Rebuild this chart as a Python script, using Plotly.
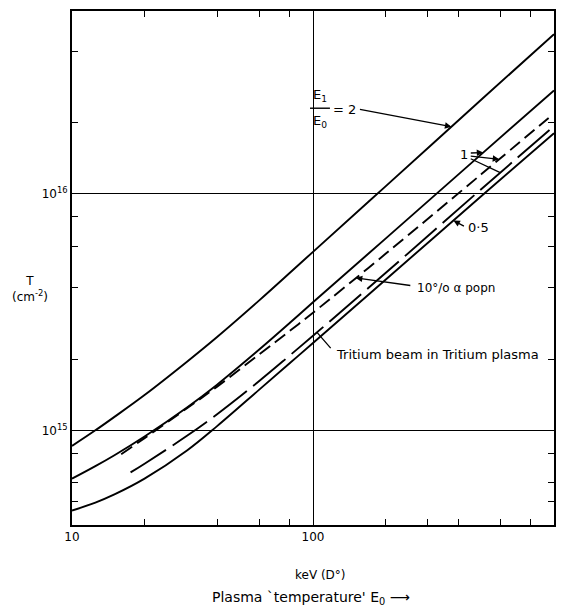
import numpy as np
import plotly.graph_objects as go

# ---------------- data ----------------
x_full = [10, 12.5, 15, 20, 30, 40, 60, 80, 100, 200, 500, 1000]
T_ratio2 = [8.59e14, 1.00e15, 1.14e15, 1.41e15, 1.95e15, 2.48e15, 3.55e15, 4.62e15, 5.68e15, 1.074e16, 2.50e16, 4.72e16]
T_ratio1 = [6.25e14, 7.06e14, 7.85e14, 9.42e14, 1.25e15, 1.56e15, 2.20e15, 2.84e15, 3.48e15, 6.46e15, 1.47e16, 2.73e16]
T_ratio05 = [4.58e14, 4.95e14, 5.36e14, 6.25e14, 8.22e14, 1.042e15, 1.49e15, 1.92e15, 2.34e15, 4.33e15, 9.77e15, 1.80e16]

x_alpha = [16, 20, 30, 40, 60, 80, 100, 200, 500, 950]
T_alpha = [7.93e14, 9.27e14, 1.24e15, 1.53e15, 2.10e15, 2.63e15, 3.14e15, 5.57e15, 1.21e16, 2.09e16]

x_trit = [17.5, 20, 30, 40, 60, 80, 100, 200, 500, 1000]
T_trit = [6.64e14, 7.23e14, 9.48e14, 1.17e15, 1.62e15, 2.07e15, 2.51e15, 4.62e15, 1.047e16, 1.93e16]

x_major = [10, 100, 1000]
x_major_text = ["10", "100", "1000"]
x_minor = [20, 40, 60, 80, 200, 300, 400, 600, 800]
y_major = [1e15, 1e16]
y_major_text = ["10<sup>15</sup>", "10<sup>16</sup>"]
y_minor = [5e14, 6e14, 8e14, 2e15, 4e15, 6e15, 8e15, 2e16, 4e16]

# ---------------- layout helpers ----------------
W, H = 565, 608
L, R, TOP, BOT = 72, 556, 9.5, 525
FONT = "DejaVu Sans"


def px(xp):
    return (xp - L) / (R - L)


def py(yp):
    return (BOT - yp) / (BOT - TOP)


def x_at_pix(p):
    return 10 ** (1 + 2 * (p - L) / (R - L))


def on_curve(xs, ys, xq):
    return float(np.interp(np.log10(xq), np.log10(xs), np.log10(ys)))


fig = go.Figure()
line_w = 1.9
fig.add_trace(go.Scatter(x=x_full, y=T_ratio2, mode="lines", line=dict(color="black", width=line_w, shape="spline")))
fig.add_trace(go.Scatter(x=x_full, y=T_ratio1, mode="lines", line=dict(color="black", width=line_w, shape="spline")))
fig.add_trace(go.Scatter(x=x_full, y=T_ratio05, mode="lines", line=dict(color="black", width=line_w, shape="spline")))
fig.add_trace(go.Scatter(x=x_alpha, y=T_alpha, mode="lines", line=dict(color="black", width=line_w, dash="13px,6px", shape="spline")))
fig.add_trace(go.Scatter(x=x_trit, y=T_trit, mode="lines", line=dict(color="black", width=line_w, dash="42px,8px", shape="spline")))

ann = []


def tf(size=13):
    return dict(family=FONT, size=size, color="black")


def label(xp, yp, text, xanchor="center", size=13):
    ann.append(dict(xref="paper", yref="paper", x=px(xp), y=py(yp), text=text, showarrow=False,
                    xanchor=xanchor, yanchor="middle", font=tf(size)))


def pointer(xs, ys, head_px, tail_px, tail_py, head=2):
    xq = x_at_pix(head_px)
    yq = on_curve(xs, ys, xq)
    head_py = BOT - (yq - 14.6) / (16.772 - 14.6) * (BOT - TOP)
    ann.append(dict(x=np.log10(xq), y=yq, xref="x", yref="y", ax=tail_px - head_px, ay=tail_py - head_py,
                    showarrow=True, arrowhead=head, arrowsize=1, arrowwidth=1.3, arrowcolor="black", text=""))


# E1/E0 = 2
label(321, 94, "E<sub>1</sub>")
label(321, 120, "E<sub>0</sub>")
label(346, 108, "= 2")
pointer(x_full, T_ratio2, 453, 360, 108)
# 1
label(466, 153, "1")
pointer(x_full, T_ratio1, 485, 471, 152)
pointer(x_alpha, T_alpha, 501, 471, 155)
pointer(x_trit, T_trit, 502, 471, 157, head=0)
# 0.5
pointer(x_full, T_ratio05, 455, 467, 226)
label(468, 227, "0·5", xanchor="left")
# 10% alpha
pointer(x_alpha, T_alpha, 357, 413, 285)
label(416, 287, "10°/o α popn", xanchor="left", size=12)
# Tritium
pointer(x_trit, T_trit, 318, 333, 349, head=0)
label(335, 354, "Tritium beam in Tritium plasma", xanchor="left")
# axis titles
label(30, 288, "T<br>(cm<sup>-2</sup>)", size=12)
label(322, 575, "keV (D°)", size=12)
label(312, 598, "Plasma `temperature' E<sub>0</sub> ⟶", size=14)

shapes = [dict(type="line", xref="paper", yref="paper", x0=px(311), x1=px(331), y0=py(107), y1=py(107),
               line=dict(color="black", width=1.4))]

fig.update_layout(
    width=W, height=H, showlegend=False,
    margin=dict(l=L, r=W - R, t=TOP, b=H - BOT),
    paper_bgcolor="white", plot_bgcolor="white",
    annotations=ann, shapes=shapes,
    font=dict(family=FONT, size=12, color="black"),
)
fig.update_xaxes(type="log", range=[1, 3], tickmode="array", tickvals=x_major, ticktext=x_major_text,
                 showgrid=True, gridcolor="black", gridwidth=1.2, ticks="", showline=True, linecolor="black",
                 linewidth=1.9, mirror="allticks", zeroline=False, tickfont=dict(family=FONT, size=12),
                 minor=dict(tickmode="array", tickvals=x_minor, ticks="inside", ticklen=6, tickcolor="black", tickwidth=1.3, showgrid=False))
fig.update_yaxes(type="log", range=[14.6, 16.772], tickmode="array", tickvals=y_major, ticktext=y_major_text,
                 showgrid=True, gridcolor="black", gridwidth=1.2, ticks="", showline=True, linecolor="black",
                 linewidth=1.9, mirror="allticks", zeroline=False, tickfont=dict(family=FONT, size=12),
                 minor=dict(tickmode="array", tickvals=y_minor, ticks="inside", ticklen=6, tickcolor="black", tickwidth=1.3, showgrid=False))

fig.write_html("out.html")
